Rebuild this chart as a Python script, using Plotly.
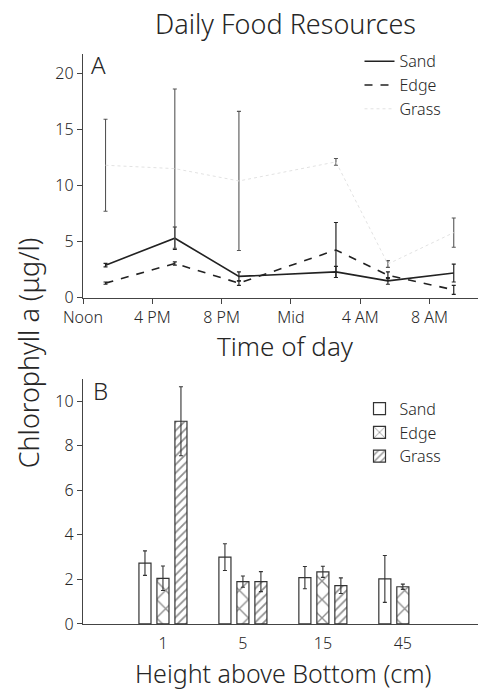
import plotly.graph_objects as go

# ---------- Panel A data ----------
hours = [13.3, 17.3, 21.0, 26.6, 29.6, 33.4]
tick_hours = [12, 16, 20, 24, 28, 32]
tick_text = ["Noon", "4 PM", "8 PM", "Mid", "4 AM", "8 AM"]

sand_a = [2.9, 5.3, 1.9, 2.3, 1.5, 2.2]
sand_a_err = [0.15, 1.0, 0.4, 0.5, 0.3, 0.8]
edge_a = [1.3, 3.05, 1.3, 4.25, 2.0, 0.7]
edge_a_err = [0.1, 0.15, 0.2, 2.45, 0.3, 0.4]
grass_a = [11.8, 11.5, 10.4, 12.1, 3.0, 5.8]
grass_a_err = [4.1, 7.1, 6.2, 0.3, 0.3, 1.3]

# ---------- Panel B data ----------
heights = ["1", "5", "15", "45"]
sand_b = [2.73, 3.0, 2.08, 2.02]
sand_b_err = [0.55, 0.6, 0.5, 1.05]
edge_b = [2.05, 1.9, 2.34, 1.67]
edge_b_err = [0.55, 0.25, 0.25, 0.12]
grass_b = [9.1, 1.9, 1.72, None]
grass_b_err = [1.55, 0.45, 0.35, 0]

FONT = "Noto Sans"
W = 300
TXT = "#262626"
AX = "#444444"

def F(size):
    return dict(family=FONT, size=size, color=TXT, weight=W)

fig = go.Figure()

# Panel A lines
fig.add_trace(go.Scatter(
    x=hours, y=sand_a, mode="lines", name="Sand",
    line=dict(color="#222222", width=1.6, dash="solid"),
    error_y=dict(type="data", array=sand_a_err, color="#222222", thickness=1.2, width=2),
    xaxis="x", yaxis="y", legend="legend"))
fig.add_trace(go.Scatter(
    x=hours, y=edge_a, mode="lines", name="Edge",
    line=dict(color="#222222", width=1.6, dash="8px,8px"),
    error_y=dict(type="data", array=edge_a_err, color="#222222", thickness=1.2, width=2),
    xaxis="x", yaxis="y", legend="legend"))
fig.add_trace(go.Scatter(
    x=hours, y=grass_a, mode="lines", name="Grass",
    line=dict(color="#e2e2e2", width=1.0, dash="dot"),
    error_y=dict(type="data", array=grass_a_err, color="#555555", thickness=1.1, width=2),
    xaxis="x", yaxis="y", legend="legend"))

# Panel B bars
fig.add_trace(go.Bar(
    x=heights, y=sand_b, name="Sand",
    marker=dict(color="white", line=dict(color="#333333", width=1.2)),
    error_y=dict(type="data", array=sand_b_err, color="#333333", thickness=1.1, width=2),
    xaxis="x2", yaxis="y2", legend="legend2"))
fig.add_trace(go.Bar(
    x=heights, y=edge_b, name="Edge",
    marker=dict(color="white", line=dict(color="#333333", width=1.2),
                pattern=dict(shape="x", fgcolor="#222222", bgcolor="white", size=13, solidity=0.2)),
    error_y=dict(type="data", array=edge_b_err, color="#333333", thickness=1.1, width=2),
    xaxis="x2", yaxis="y2", legend="legend2"))
fig.add_trace(go.Bar(
    x=heights, y=grass_b, name="Grass",
    marker=dict(color="white", line=dict(color="#333333", width=1.2),
                pattern=dict(shape="/", fgcolor="#222222", bgcolor="white", size=6, solidity=0.3)),
    error_y=dict(type="data", array=grass_b_err, color="#333333", thickness=1.1, width=2),
    xaxis="x2", yaxis="y2", legend="legend2"))

H = 694.0
def ydom(top_px, bot_px):
    return [1 - bot_px / H, 1 - top_px / H]

axis_common = dict(showline=True, linecolor=AX, linewidth=1.3, showgrid=False, zeroline=False,
                   tickfont=F(16))

fig.update_layout(
    width=478, height=694,
    margin=dict(l=83, r=0, t=0, b=0),
    paper_bgcolor="white", plot_bgcolor="white",
    font=dict(family=FONT, color=TXT),
    barmode="group", bargap=0.325, bargroupgap=0.33,
    xaxis=dict(domain=[0, 1], range=[12, 34.8], tickvals=tick_hours, ticktext=tick_text,
               ticks="outside", ticklen=5, tickcolor=AX, anchor="y", **axis_common),
    yaxis=dict(domain=ydom(55, 302.5), range=[0, 21.7], tickvals=[0, 5, 10, 15, 20],
               ticks="outside", ticklen=5, tickcolor=AX, anchor="x", **axis_common),
    xaxis2=dict(domain=[0, 1], range=[-1, 3.94], ticks="outside", ticklen=5,
                tickcolor="rgba(0,0,0,0)", anchor="y2", **axis_common),
    yaxis2=dict(domain=ydom(385, 634), range=[0, 11.0], tickvals=[0, 2, 4, 6, 8, 10],
                ticks="outside", ticklen=5, tickcolor=AX, anchor="x2", **axis_common),
    legend=dict(x=0.70, y=1 - 45 / H, xanchor="left", yanchor="top",
                font=F(16), bgcolor="rgba(0,0,0,0)", tracegroupgap=0, itemwidth=30),
    legend2=dict(x=0.70, y=1 - 398 / H, xanchor="left", yanchor="top",
                 font=F(16), bgcolor="rgba(0,0,0,0)", tracegroupgap=0, itemwidth=30),
    showlegend=True,
    annotations=[
        dict(text="Daily Food Resources", x=(285 - 83) / 395, y=1 - 24 / H, xref="paper", yref="paper",
             showarrow=False, font=F(27), xanchor="center", yanchor="middle"),
        dict(text="A", x=(98 - 83) / 395, y=1 - 66 / H, xref="paper", yref="paper",
             showarrow=False, font=F(24), xanchor="center", yanchor="middle"),
        dict(text="B", x=(100 - 83) / 395, y=1 - 397 / H, xref="paper", yref="paper",
             showarrow=False, font=F(24), xanchor="center", yanchor="middle"),
        dict(text="Time of day", x=(285 - 83) / 395, y=1 - 352 / H, xref="paper", yref="paper",
             showarrow=False, font=F(26), xanchor="center", yanchor="middle"),
        dict(text="Height above Bottom (cm)", x=(283 - 83) / 395, y=1 - 684 / H, xref="paper", yref="paper",
             showarrow=False, font=F(25), xanchor="center", yanchor="middle"),
        dict(text="Chlorophyll a (μg/l)", x=(28 - 83) / 395, y=1 - 359 / H, xref="paper", yref="paper",
             showarrow=False, textangle=-90, font=F(27),
             xanchor="center", yanchor="middle"),
    ],
)

fig.write_html("out.html")
